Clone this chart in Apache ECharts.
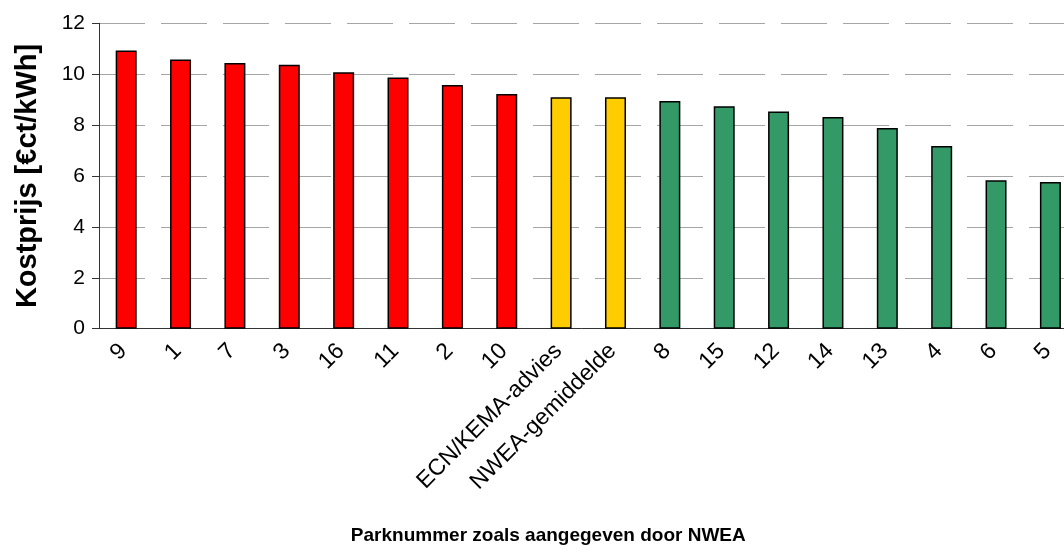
<!DOCTYPE html>
<html>
<head>
<meta charset="utf-8">
<script src="https://cdn.jsdelivr.net/npm/echarts@6/dist/echarts.min.js"></script>
<style>
  html,body{margin:0;padding:0;background:#fff;}
  .main{width:1064px;height:558px;}
</style>
</head>
<body>
<div class="main"></div>
<script>
// parknummers, gesorteerd op kostprijs
var parken=['9','1','7','3','16','11','2','10','ECN/KEMA-advies','NWEA-gemiddelde','8','15','12','14','13','4','6','5'];
// kostprijs in eurocent per kWh
var kostprijs=[10.93,10.58,10.44,10.37,10.08,9.87,9.58,9.22,9.09,9.09,8.95,8.74,8.53,8.32,7.89,7.18,5.83,5.76];
// boven / referentie / onder
var groep=['boven','boven','boven','boven','boven','boven','boven','boven','ref','ref','onder','onder','onder','onder','onder','onder','onder','onder'];
var yTicks=[0,2,4,6,8,10,12];

var kleur={boven:'#ff0000',ref:'#ffcc00',onder:'#339966'};
var font='"Liberation Sans", Arial, sans-serif';

var data=[];
for (var i=0;i<kostprijs.length;i++)
{
  data.push({
    value:kostprijs[i],
    itemStyle:{color:kleur[groep[i]]}
  });
}

var myChart=echarts.init(document.querySelector('.main'),null,{renderer:'canvas'});
var option={
  animation:false,
  textStyle:{fontFamily:font},
  // plot loopt rechts iets buiten beeld door
  grid:{left:99,right:-13.6,top:23.3,bottom:229.3,containLabel:false,outerBoundsMode:'none'},
  xAxis:{
    type:'category',
    data:parken,
    name:'Parknummer zoals aangegeven door NWEA',
    nameLocation:'middle',
    nameGap:198,
    nameTextStyle:{fontFamily:font,fontSize:19,fontWeight:'bold',color:'#000',padding:[0,80,0,0]},
    axisLine:{lineStyle:{color:'#333',width:1}},
    axisTick:{alignWithLabel:false,length:7,lineStyle:{color:'#333'}},
    axisLabel:{rotate:45,margin:16,fontSize:23,color:'#000',fontFamily:font,interval:0,padding:[0,4,22,0]}
  },
  yAxis:{
    type:'value',
    min:yTicks[0],
    max:yTicks[yTicks.length-1],
    interval:2,
    name:'Kostprijs [€ct/kWh]',
    nameLocation:'middle',
    nameGap:57,
    nameTextStyle:{fontFamily:font,fontSize:29,fontWeight:'bold',color:'#000'},
    axisLine:{show:true,lineStyle:{color:'#333',width:1}},
    axisTick:{show:true,length:7,lineStyle:{color:'#333'}},
    axisLabel:{margin:14,fontSize:21,color:'#000',fontFamily:font},
    splitLine:{show:true,lineStyle:{color:'#a6a6a6',width:1,type:[46,16]}}
  },
  series:[{
    type:'bar',
    data:data,
    barWidth:21,
    itemStyle:{borderColor:'#000',borderWidth:1.5}
  }]
};
myChart.setOption(option);
</script>
</body>
</html>
